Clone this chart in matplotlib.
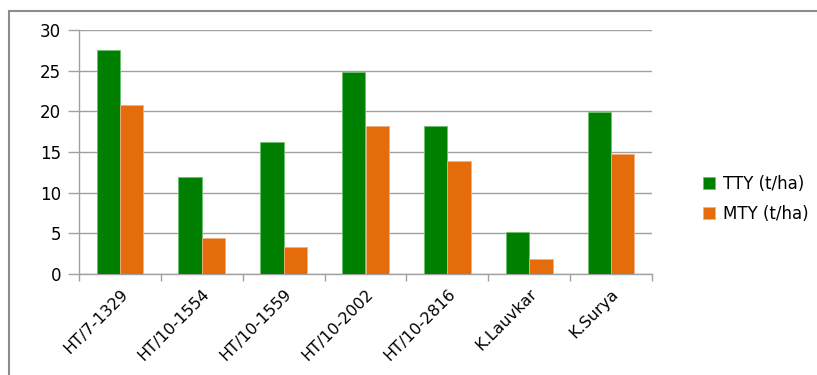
import matplotlib.pyplot as plt
import numpy as np
from matplotlib.patches import Rectangle

categories = ['HT/7-1329', 'HT/10-1554', 'HT/10-1559', 'HT/10-2002',
              'HT/10-2816', 'K.Lauvkar', 'K.Surya']
tty = [27.5, 11.9, 16.2, 24.8, 18.2, 5.2, 19.9]
mty = [20.8, 4.4, 3.3, 18.2, 13.9, 1.8, 14.7]
series_names = ['TTY (t/ha)', 'MTY (t/ha)']

green = '#008000'
orange = '#E46C0A'
gray = '#a0a0a0'

fig = plt.figure(figsize=(8.17, 3.75), dpi=100)
ax = fig.add_axes([79/817, 1 - 274/375, (652 - 79)/817, (274 - 30)/375])

# outer chart border (cut off at the right and bottom like the source)
fig.add_artist(Rectangle((9/817, -0.05), 1.0, 1 - 11/375 + 0.05,
                         transform=fig.transFigure, fill=False,
                         edgecolor='#8c8c8c', lw=1.5))

x = np.arange(len(categories))
w = 1 / 3.5
ax.bar(x - w/2, tty, w, color=green, edgecolor='#6fbf6f', lw=0.6,
       label=series_names[0], zorder=3)
ax.bar(x + w/2, mty, w, color=orange, edgecolor='#f2b080', lw=0.6,
       label=series_names[1], zorder=3)

ax.set_xlim(-0.5, len(categories) - 0.5)
ax.set_ylim(0, 30)
ax.set_yticks(np.arange(0, 31, 5))
ax.yaxis.grid(True, color=gray, lw=1.0, zorder=0)
ax.set_axisbelow(True)

for s in ['top', 'right']:
    ax.spines[s].set_visible(False)
for s in ['left', 'bottom']:
    ax.spines[s].set_color(gray)
    ax.spines[s].set_linewidth(1.0)

ax.set_xticks(x)
ax.set_xticklabels(categories, rotation=45, ha='right', rotation_mode='anchor',
                   fontsize=11.5)
ax.set_xticks(np.arange(-0.5, len(categories), 1), minor=True)
ax.tick_params(axis='x', which='major', length=0, pad=9)
ax.tick_params(axis='x', which='minor', length=5, color=gray, width=1.0)
ax.tick_params(axis='y', length=8, color=gray, width=1.0, labelsize=12, pad=5)

fig.legend(loc='upper left', bbox_to_anchor=(696/817, 1 - 168/375),
           frameon=False, fontsize=12, handlelength=0.75, handleheight=0.75,
           handletextpad=0.45, labelspacing=0.75, borderaxespad=0)

fig.savefig('out.png', dpi=100)
